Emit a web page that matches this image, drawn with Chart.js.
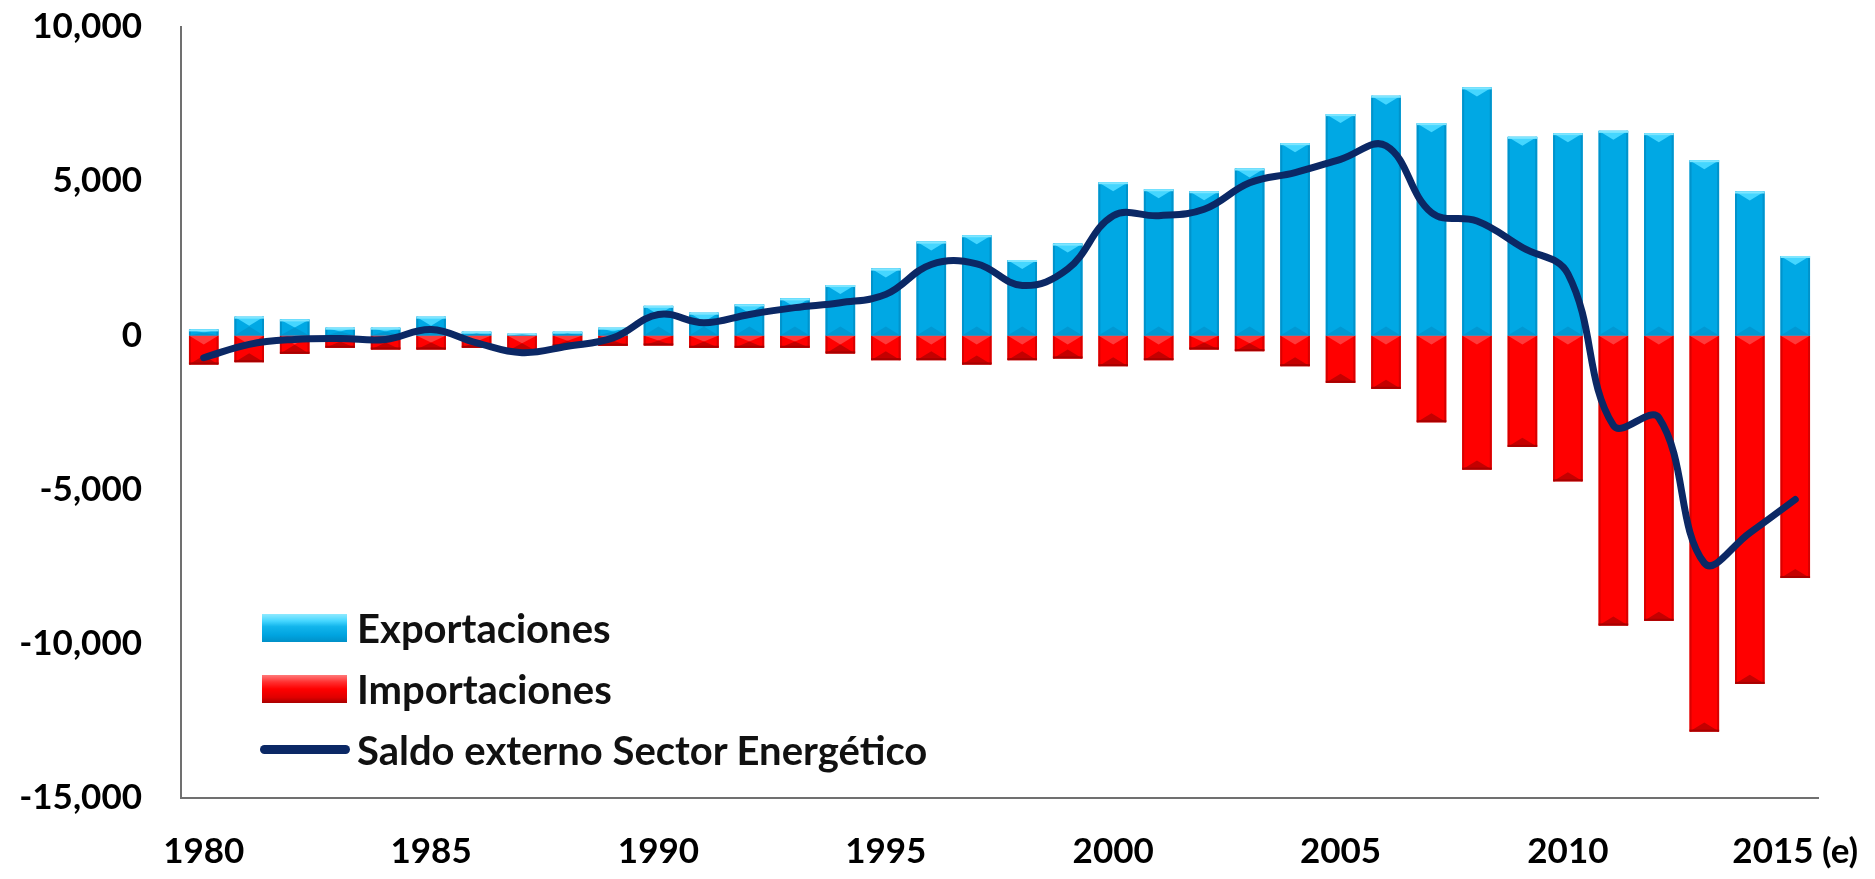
<!DOCTYPE html>
<html>
<head>
<meta charset="utf-8">
<script src="https://cdn.jsdelivr.net/npm/chart.js@4.4.1/dist/chart.umd.min.js"></script>
<style>
  html, body { margin: 0; padding: 0; background: #ffffff; }
  #wrap { position: relative; width: 1875px; height: 879px; overflow: hidden; }
  #c { position: absolute; left: 0; top: 0; }
  #legend { position: absolute; left: 262px; top: 597px; font-family: Lato, "Open Sans", sans-serif; font-weight: 700; font-size: 40px; color: #111; }
  .row { display: flex; align-items: center; height: 61px; white-space: nowrap; }
  .sw { width: 85px; height: 28px; margin-right: 10px; box-sizing: border-box; }
  .ln { width: 90px; height: 9px; border-radius: 5px; margin-left: -2px; margin-right: 7px; }
</style>
</head>
<body>
<div id="wrap">
  <canvas id="c" width="1875" height="879"></canvas>
  <div id="legend"></div>
</div>
<script>
// ---------- DATA ----------
const categories = ['1980','1981','1982','1983','1984','1985','1986','1987','1988','1989',
                    '1990','1991','1992','1993','1994','1995','1996','1997','1998','1999',
                    '2000','2001','2002','2003','2004','2005','2006','2007','2008','2009',
                    '2010','2011','2012','2013','2014','2015'];
const xTickLabels = ['1980','','','','','1985','','','','',
                     '1990','','','','','1995','','','','',
                     '2000','','','','','2005','','','','',
                     '2010','','','','','2015 (e)'];
const exportaciones = [195, 607, 519, 250, 250, 607, 120, 55, 120, 250,
                       958, 737, 1006, 1201, 1633, 2166, 3042, 3247, 2445, 2977,
                       4968, 4740, 4675, 5412, 6234, 7175, 7770, 6883, 8042, 6438,
                       6558, 6633, 6558, 5682, 4666, 2575];
const importaciones = [-942, -867, -594, -399, -455, -455, -399, -510, -347, -334,
                       -325, -400, -400, -400, -584, -802, -802, -942, -802, -747,
                       -997, -802, -455, -510, -997, -1536, -1731, -2815, -4351, -3614,
                       -4731, -9406, -9253, -12847, -11299, -7867];
const saldo = [-725, -290, -130, -100, -130, 190, -240, -560, -350, -80,
               680, 410, 680, 900, 1060, 1330, 2300, 2320, 1620, 2150,
               3880, 3880, 4090, 4950, 5280, 5710, 6150, 3980, 3710, 2850,
               2000, -2920, -2670, -7380, -6400, -5320];
const yTicks = [-15000, -10000, -5000, 0, 5000, 10000];
const seriesNames = ['Exportaciones', 'Importaciones', 'Saldo externo Sector Energético'];

// ---------- STYLE ----------
const BLUE = '#00A8E4';
const RED = '#FF0000';
const NAVY = '#0B2865';
const FONT = 'Lato, "Open Sans", sans-serif';

// bevel look for bars, drawn from the library's own bar elements
const bevel = {
  id: 'bevel',
  afterDatasetDraw(chart, args) {
    const ds = chart.data.datasets[args.index];
    if (!ds.bevel) return;
    const ctx = chart.ctx;
    const area = chart.chartArea;
    args.meta.data.forEach(el => {
      const p = el.getProps(['x', 'y', 'base', 'width'], true);
      const l = p.x - p.width / 2, r = p.x + p.width / 2;
      const top = Math.min(p.y, p.base), bot = Math.max(p.y, p.base);
      const h = bot - top;
      if (h < 1) return;
      const d = Math.min(9, h / 2);
      ctx.save();
      ctx.beginPath();
      ctx.rect(area.left, area.top, area.right - area.left, area.bottom - area.top);
      ctx.clip();
      if (ds.bevel === 'blue') {
        ctx.fillStyle = '#0093CB';
        ctx.fillRect(l, top, 2, h);
        ctx.fillRect(r - 2, top, 2, h);
        ctx.fillStyle = '#45D6FF';
        ctx.beginPath(); ctx.moveTo(l, top); ctx.lineTo(r, top); ctx.lineTo(p.x, top + d); ctx.closePath(); ctx.fill();
        ctx.fillStyle = '#7FE6FF';
        ctx.fillRect(l, top, p.width, Math.min(2, h));
        ctx.fillStyle = '#0098D2';
        ctx.beginPath(); ctx.moveTo(l, bot); ctx.lineTo(r, bot); ctx.lineTo(p.x, bot - d); ctx.closePath(); ctx.fill();
      } else {
        ctx.fillStyle = '#D80000';
        ctx.fillRect(l, top, 2, h);
        ctx.fillRect(r - 2, top, 2, h);
        ctx.fillStyle = '#FF3A3A';
        ctx.beginPath(); ctx.moveTo(l, top); ctx.lineTo(r, top); ctx.lineTo(p.x, top + d); ctx.closePath(); ctx.fill();
        ctx.fillStyle = '#C40000';
        ctx.beginPath(); ctx.moveTo(l, bot); ctx.lineTo(r, bot); ctx.lineTo(p.x, bot - d); ctx.closePath(); ctx.fill();
        ctx.fillStyle = '#A80000';
        ctx.fillRect(l, bot - 2, p.width, 2);
      }
      ctx.restore();
    });
  }
};

function fmt(v) {
  return v.toLocaleString('en-US');
}

function build() {
  const chart = new Chart(document.getElementById('c'), {
    data: {
      labels: categories,
      datasets: [
        {
          type: 'line', label: seriesNames[2], data: saldo,
          borderColor: NAVY, backgroundColor: NAVY, borderWidth: 7,
          pointRadius: 0, tension: 0.4, borderCapStyle: 'round', borderJoinStyle: 'round',
          fill: false, order: 0
        },
        {
          type: 'bar', label: seriesNames[0], data: exportaciones,
          backgroundColor: BLUE, borderWidth: 0, bevel: 'blue', order: 1,
          barPercentage: 0.65, categoryPercentage: 1.0
        },
        {
          type: 'bar', label: seriesNames[1], data: importaciones,
          backgroundColor: RED, borderWidth: 0, bevel: 'red', order: 1,
          barPercentage: 0.65, categoryPercentage: 1.0
        }
      ]
    },
    options: {
      responsive: false,
      animation: false,
      devicePixelRatio: 1,
      layout: { padding: { left: 0, right: 57, top: 27, bottom: 0 } },
      plugins: { legend: { display: false }, tooltip: { enabled: false } },
      scales: {
        x: {
          stacked: true,
          offset: true,
          grid: { display: false, drawTicks: false },
          border: { display: true, color: '#707070', width: 2 },
          ticks: {
            autoSkip: false, maxRotation: 0, minRotation: 0, padding: 33,
            color: '#000', font: { family: FONT, size: 35, weight: 'bold' },
            callback: (v, i) => xTickLabels[i]
          },
          afterFit: s => { s.height = 81; s.paddingLeft = 0; s.paddingRight = 0; }
        },
        y: {
          stacked: false,
          min: yTicks[0], max: yTicks[yTicks.length - 1],
          grid: { display: false, drawTicks: false },
          border: { display: true, color: '#707070', width: 2 },
          afterBuildTicks: s => { s.ticks = yTicks.map(v => ({ value: v })); },
          ticks: {
            padding: 39, color: '#000',
            font: { family: FONT, size: 35, weight: 'bold' },
            callback: v => fmt(v)
          },
          afterFit: s => { s.width = 181; s.paddingTop = 0; s.paddingBottom = 0; }
        }
      }
    },
    plugins: [bevel]
  });

  // HTML legend built from the chart's datasets
  const lg = document.getElementById('legend');
  const order = [1, 2, 0];
  order.forEach(i => {
    const ds = chart.data.datasets[i];
    const row = document.createElement('div');
    row.className = 'row';
    const sw = document.createElement('div');
    if (ds.type === 'line') {
      sw.className = 'ln';
      sw.style.background = ds.borderColor;
    } else {
      sw.className = 'sw';
      if (ds.bevel === 'blue') {
        sw.style.background = 'linear-gradient(to bottom, #8FEAFF 0%, #45D6FF 25%, #12B5EC 45%, #00A4E0 75%, #0090C8 100%)';
      } else {
        sw.style.background = 'linear-gradient(to bottom, #FF7A7A 0%, #FF3030 25%, #FF0000 50%, #E00000 80%, #A80000 100%)';
      }
    }
    const tx = document.createElement('span');
    tx.textContent = ds.label;
    row.appendChild(sw);
    row.appendChild(tx);
    lg.appendChild(row);
  });
}

if (document.fonts && document.fonts.load) {
  Promise.all([document.fonts.load('bold 35px Lato'), document.fonts.load('bold 40px Lato')]).then(build, build);
} else {
  build();
}
</script>
</body>
</html>
